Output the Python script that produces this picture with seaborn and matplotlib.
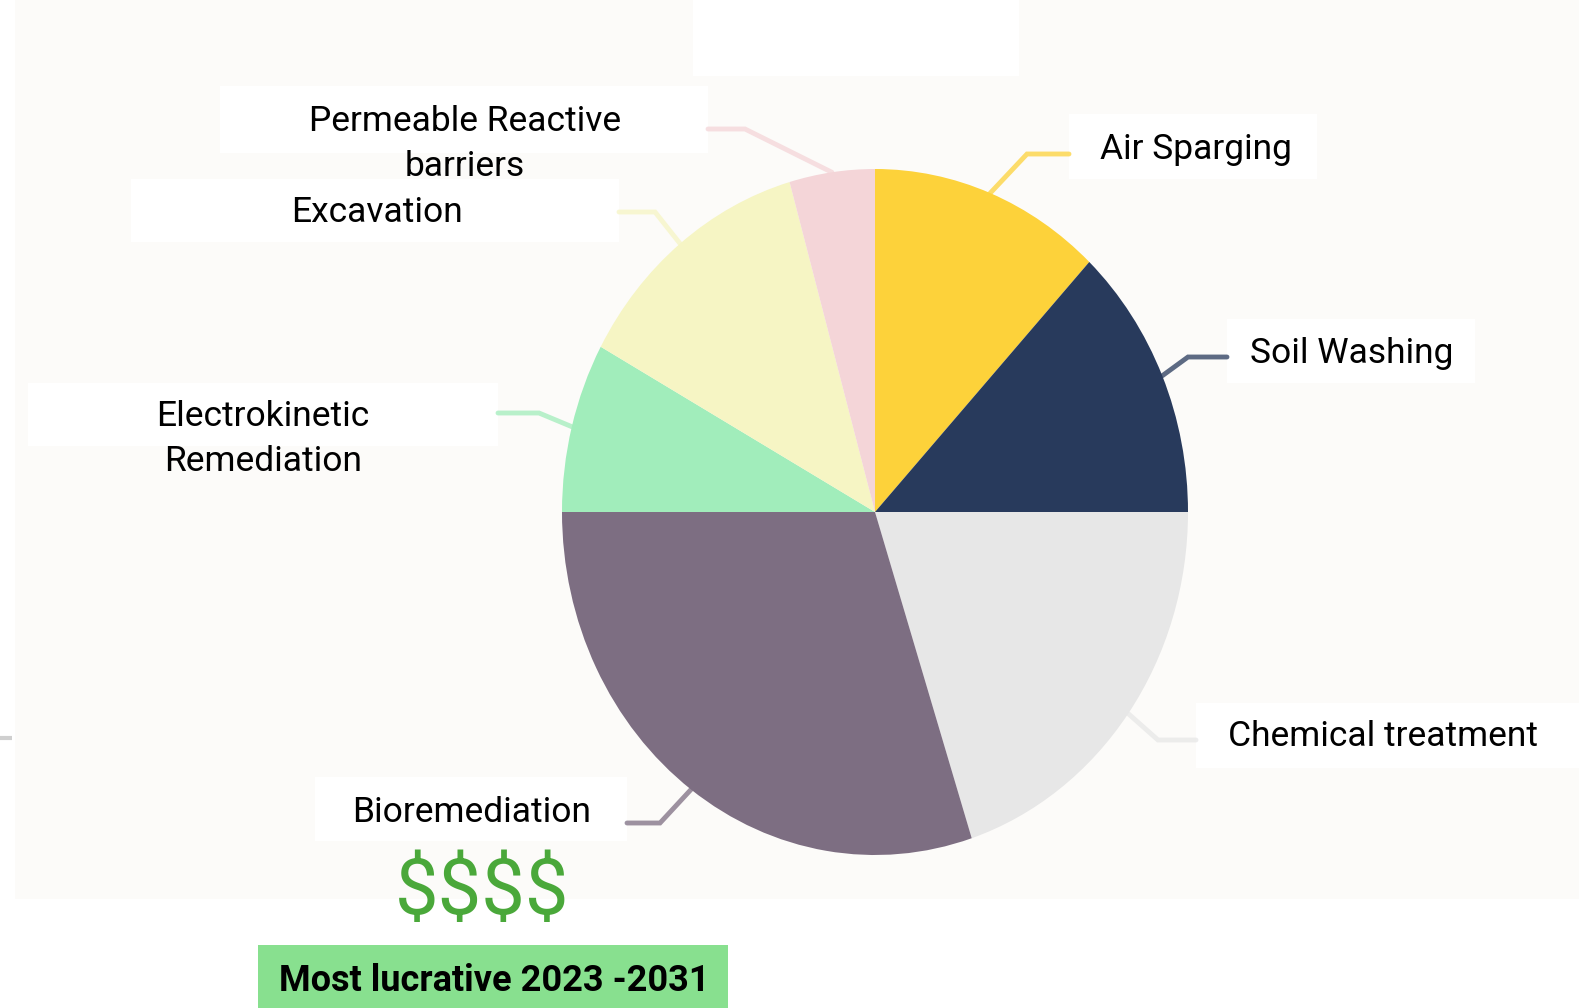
import matplotlib
matplotlib.use("Agg")
import matplotlib.pyplot as plt
import matplotlib.patches as mpatches
import seaborn as sns
import numpy as np

# ==========================================
# DATA (shares)
# ==========================================
methods = ["Air Sparging", "Soil Washing", "Chemical treatment", "Bioremediation",
           "Electrokinetic\nRemediation", "Excavation", "Permeable Reactive\nbarriers"]
shares = [12.0, 13.0, 20.0, 30.0, 8.0, 12.6, 4.4]
colors = ["#fdd23a", "#283a5c", "#e7e7e7", "#7d6e82", "#a1edbb", "#f6f5c4", "#f4d5d8"]
badge_text = "Most lucrative 2023 -2031"
money_text = "$$$$"

# label layout in pixels: (box x0, y0, x1, y1), text anchor, elbow, line end
boxes = [(1069, 114, 1317, 179), (1227, 319, 1475, 383), (1196, 703, 1579, 768),
         (315, 777, 627, 841), (28, 383, 498, 446), (131, 179, 619, 242),
         (220, 86, 708, 153)]
text_pos = [(1100, 149, "left"), (1250, 354, "left"), (1228, 737, "left"),
            (472, 812, "center"), (263, 439, "center"), (377, 213, "center"),
            (465, 144, "center")]
elbows = [(1027, 154), (1188, 357), (1158, 740), (660, 823), (539, 413),
          (655, 212), (745, 129)]
ends = [(1069, 154), (1227, 357), (1196, 740), (627, 823), (498, 413),
        (619, 212), (708, 129)]

W, H = 1579, 1008
sns.set_theme(style="white")
plt.rcParams['font.family'] = ['Roboto', 'DejaVu Sans']

fig = plt.figure(figsize=(W / 100, H / 100), dpi=100)
fig.patch.set_facecolor("white")

# background layer (panel + white label boxes)
bg = fig.add_axes([0, 0, 1, 1], zorder=0)
bg.set_xlim(0, W)
bg.set_ylim(H, 0)
bg.axis("off")
bg.add_patch(mpatches.Rectangle((15, 0), W - 15, 899, color="#fcfbf9", lw=0))
bg.add_patch(mpatches.Rectangle((693, 0), 326, 76, color="white", lw=0))
bg.plot([0, 12], [738, 738], color="#cfcfcf", lw=3, solid_capstyle="butt")
for (x0, y0, x1, y1) in boxes:
    bg.add_patch(mpatches.Rectangle((x0, y0), x1 - x0, y1 - y0, color="white", lw=0))

# pie (slightly stretched vertically like the reference)
cx, cy, rx, ry = 875, 512, 313, 343
pie_ax = fig.add_axes([(cx - rx) / W, 1 - (cy + ry) / H, 2 * rx / W, 2 * ry / H], zorder=1)
wedges, _ = pie_ax.pie(shares, colors=colors, startangle=90, counterclock=False,
                       radius=1.0, wedgeprops={"linewidth": 0})
pie_ax.set_aspect("auto")
pie_ax.set_xlim(-1, 1)
pie_ax.set_ylim(-1, 1)
pie_ax.axis("off")

# overlay: leader lines and text
ov = fig.add_axes([0, 0, 1, 1], zorder=2)
ov.set_xlim(0, W)
ov.set_ylim(H, 0)
ov.axis("off")
ov.patch.set_alpha(0)

for i, w in enumerate(wedges):
    mid = np.deg2rad((w.theta1 + w.theta2) / 2)
    disp = pie_ax.transData.transform((np.cos(mid), np.sin(mid)))
    sx, sy = ov.transData.inverted().transform(disp)
    ex, ey = elbows[i]
    fx, fy = ends[i]
    ov.plot([sx, ex, fx], [sy, ey, fy], color=colors[i], lw=3.5, alpha=0.75,
            solid_joinstyle="miter", zorder=1)
    tx, ty, ha = text_pos[i]
    ov.text(tx, ty, methods[i], ha=ha, va="center", fontsize=25.5,
            color="black", linespacing=1.45)

ov.text(482, 893, money_text, ha="center", va="center", fontsize=56,
        color="#4aa83a", parse_math=False)
ov.add_patch(mpatches.Rectangle((258, 945), 470, 63, color="#88e08f", lw=0))
ov.text(494, 981, badge_text, ha="center", va="center", fontsize=26,
        fontweight="bold", color="black")

plt.savefig("out.png", dpi=100)
plt.close()
